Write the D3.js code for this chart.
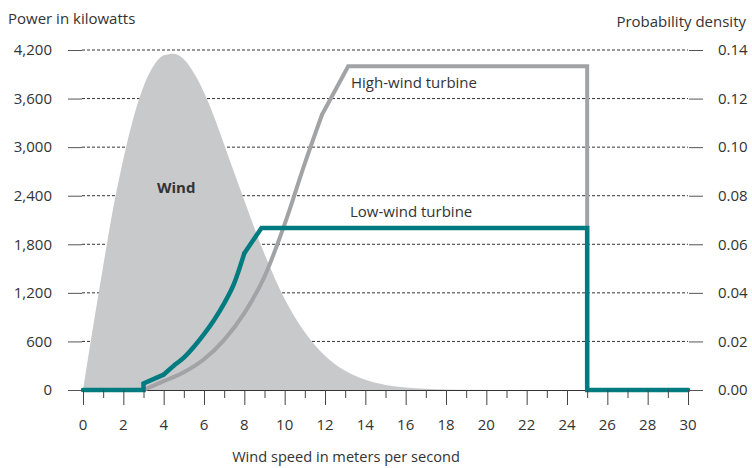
<!DOCTYPE html>
<html>
<head>
<meta charset="utf-8">
<script src="https://cdn.jsdelivr.net/npm/d3@7"></script>
<style>
  body { margin: 0; background: #fff; }
  text { font-family: "Open Sans", sans-serif; fill: #333; }
</style>
</head>
<body>
<div id="chart"></div>
<script>
// wind speed distribution (probability density)
const windSpeed = [0, 0.5, 1, 1.5, 2, 2.5, 3, 3.5, 4, 4.5, 5, 5.5, 6, 6.5, 7, 7.5, 8, 9, 10, 11, 12, 13, 14, 15, 16, 17, 18, 19, 20];
const windDensity = [0, 0.026, 0.051, 0.075, 0.095, 0.112, 0.125, 0.1335, 0.1378, 0.1385, 0.1362, 0.1305, 0.1225, 0.1125, 0.101, 0.0895, 0.078, 0.056, 0.0375, 0.0238, 0.0141, 0.0079, 0.0042, 0.0021, 0.001, 0.0005, 0.0002, 0.0001, 0];

// power curves (kW)
const lowSpeed = [0, 3, 3, 4, 4.5, 5, 5.5, 6, 6.5, 7, 7.5, 8, 8.85, 25, 25, 30];
const lowPower = [0, 0, 80, 190, 300, 400, 535, 690, 865, 1070, 1320, 1690, 2000, 2000, 0, 0];
const lowSmooth = [4, 8]; // speed range drawn as a smooth curve

const highSpeed = [0, 3, 4, 5, 6, 7, 8, 9, 10, 11, 11.85, 13.15, 25, 25, 30];
const highPower = [0, 0, 110, 220, 380, 620, 950, 1400, 2050, 2800, 3400, 4000, 4000, 0, 0];
const highSmooth = [3, 11.85];

const xTicks = d3.range(0, 31, 2);
const xMinorTicks = d3.range(1, 30, 2);
const powerTicks = [0, 600, 1200, 1800, 2400, 3000, 3600, 4200];
const densityTicks = [0, 0.02, 0.04, 0.06, 0.08, 0.10, 0.12, 0.14];

const width = 752,
    height = 468;

const lowColor = '#007b80',
    highColor = '#a2a3a6',
    windColor = '#c8c9cb';

const x = d3.scaleLinear().domain([0, 30]).range([83, 688]);
const yPower = d3.scaleLinear().domain([0, 4200]).range([390, 50]);
const yDensity = d3.scaleLinear().domain([0, 0.14]).range([390, 50]);

const svg = d3.select('#chart').append('svg')
    .attr('width', width)
    .attr('height', height);

// dashed grid
svg.append('g')
    .selectAll('line')
    .data(powerTicks.filter(d => d > 0))
    .enter()
    .append('line')
    .attr('x1', 82)
    .attr('x2', 688)
    .attr('y1', d => yPower(d))
    .attr('y2', d => yPower(d))
    .attr('stroke', '#333')
    .attr('stroke-width', 1)
    .attr('stroke-dasharray', '3,2');

// wind area
const windData = windSpeed.map((s, i) => ({ s: s, d: windDensity[i] }));
const area = d3.area()
    .x(d => x(d.s))
    .y0(yDensity(0))
    .y1(d => yDensity(d.d))
    .curve(d3.curveMonotoneX);

svg.append('path')
    .datum(windData)
    .attr('d', area)
    .attr('fill', windColor);

// baseline
svg.append('line')
    .attr('x1', 68)
    .attr('x2', 703)
    .attr('y1', 390.5)
    .attr('y2', 390.5)
    .attr('stroke', '#333')
    .attr('stroke-width', 1);

const line = d3.line()
    .x(d => x(d.s))
    .y(d => yPower(d.p));
const smoothLine = d3.line()
    .x(d => x(d.s))
    .y(d => yPower(d.p))
    .curve(d3.curveMonotoneX);

// straight pieces before and after the smooth range, smooth piece in between
function drawCurve(speeds, powers, smooth, color, w) {
    const pts = speeds.map((s, i) => ({ s: s, p: powers[i] }));
    const i0 = speeds.indexOf(smooth[0]),
        i1 = speeds.lastIndexOf(smooth[1]);
    const pieces = [
        [pts.slice(0, i0 + 1), line],
        [pts.slice(i0, i1 + 1), smoothLine],
        [pts.slice(i1), line]
    ];
    const g = svg.append('g');
    pieces.forEach(p => {
        g.append('path')
            .datum(p[0])
            .attr('d', p[1])
            .attr('fill', 'none')
            .attr('stroke', color)
            .attr('stroke-width', w)
            .attr('stroke-linejoin', 'miter')
            .attr('stroke-linecap', 'round');
    });
}

drawCurve(highSpeed, highPower, highSmooth, highColor, 4);
drawCurve(lowSpeed, lowPower, lowSmooth, lowColor, 4.5);

// left axis
const left = svg.append('g');
left.selectAll('line')
    .data(powerTicks)
    .enter()
    .append('line')
    .attr('x1', 68)
    .attr('x2', 82)
    .attr('y1', d => yPower(d) + 0.5)
    .attr('y2', d => yPower(d) + 0.5)
    .attr('stroke', '#555');
left.selectAll('text')
    .data(powerTicks)
    .enter()
    .append('text')
    .attr('x', 52)
    .attr('y', d => yPower(d))
    .attr('dy', '0.35em')
    .attr('text-anchor', 'end')
    .style('font-size', '15px')
    .text(d => d3.format(',')(d));

// right axis
const right = svg.append('g');
right.selectAll('line')
    .data(densityTicks)
    .enter()
    .append('line')
    .attr('x1', 689)
    .attr('x2', 703)
    .attr('y1', d => yDensity(d) + 0.5)
    .attr('y2', d => yDensity(d) + 0.5)
    .attr('stroke', '#555');
right.selectAll('text')
    .data(densityTicks)
    .enter()
    .append('text')
    .attr('x', 718)
    .attr('y', d => yDensity(d))
    .attr('dy', '0.35em')
    .style('font-size', '15px')
    .text(d => d3.format('.2f')(d));

// x axis
const bottom = svg.append('g');
bottom.selectAll('line.major')
    .data(xTicks)
    .enter()
    .append('line')
    .attr('class', 'major')
    .attr('x1', d => x(d) + 0.5)
    .attr('x2', d => x(d) + 0.5)
    .attr('y1', 390)
    .attr('y2', 405)
    .attr('stroke', '#444');
bottom.selectAll('line.minor')
    .data(xMinorTicks)
    .enter()
    .append('line')
    .attr('class', 'minor')
    .attr('x1', d => x(d) + 0.5)
    .attr('x2', d => x(d) + 0.5)
    .attr('y1', 390)
    .attr('y2', 398)
    .attr('stroke', '#444');
bottom.selectAll('text')
    .data(xTicks)
    .enter()
    .append('text')
    .attr('x', d => x(d))
    .attr('y', 425)
    .attr('dy', '0.35em')
    .attr('text-anchor', 'middle')
    .style('font-size', '15px')
    .text(d => d);

// titles and labels
svg.append('text')
    .attr('x', 8)
    .attr('y', 24)
    .style('font-size', '15px')
    .text('Power in kilowatts');

svg.append('text')
    .attr('x', 746)
    .attr('y', 27)
    .attr('text-anchor', 'end')
    .style('font-size', '15px')
    .text('Probability density');

svg.append('text')
    .attr('x', 346)
    .attr('y', 462)
    .attr('text-anchor', 'middle')
    .style('font-size', '14.6px')
    .text('Wind speed in meters per second');

svg.append('text')
    .attr('x', 157)
    .attr('y', 193)
    .style('font-size', '15px')
    .style('font-weight', 'bold')
    .text('Wind');

svg.append('text')
    .attr('x', 351)
    .attr('y', 88)
    .style('font-size', '15px')
    .text('High-wind turbine');

svg.append('text')
    .attr('x', 350)
    .attr('y', 217)
    .style('font-size', '15px')
    .text('Low-wind turbine');
</script>
</body>
</html>
